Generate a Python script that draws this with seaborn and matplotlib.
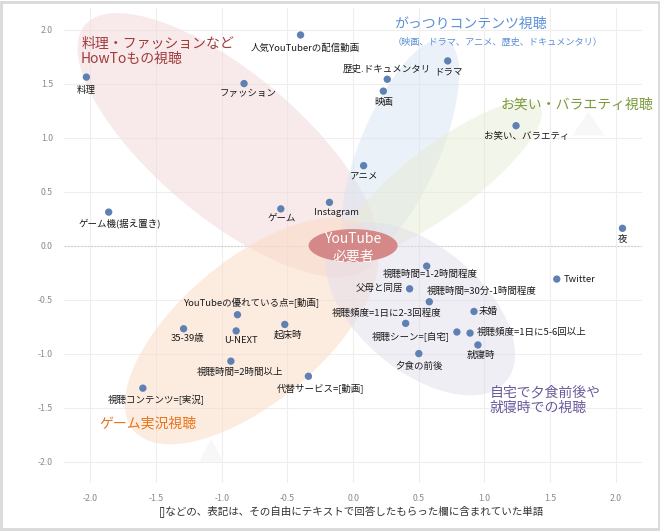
import matplotlib
matplotlib.use("Agg")
import matplotlib.pyplot as plt
from matplotlib.patches import Ellipse, Polygon, Rectangle
from matplotlib.transforms import Affine2D
import numpy as np
import pandas as pd
import seaborn as sns

sns.set_theme(style="whitegrid")
plt.rcParams['font.family'] = ['Noto Sans CJK JP', 'DejaVu Sans']

# 単語と座標 (読み取り値)
words = ["料理", "ファッション", "人気YouTuberの配信動画", "歴史.ドキュメンタリ", "映画", "ドラマ",
         "お笑い、バラエティ", "アニメ", "Instagram", "ゲーム", "ゲーム機(据え置き)", "夜", "Twitter",
         "視聴時間=1-2時間程度", "父母と同居", "視聴時間=30分-1時間程度", "未婚",
         "視聴頻度=1日に2-3回程度", "視聴シーン=[自宅]", "視聴頻度=1日に5-6回以上", "就寝時",
         "夕食の前後", "YouTubeの優れている点=[動画]", "35-39歳", "U-NEXT", "起床時",
         "視聴時間=2時間以上", "代替サービス=[動画]", "視聴コンテンツ=[実況]"]
dim1 = [-2.03, -0.83, -0.40, 0.26, 0.23, 0.72,
        1.24, 0.08, -0.18, -0.55, -1.86, 2.05, 1.55,
        0.56, 0.43, 0.58, 0.92,
        0.40, 0.79, 0.89, 0.95,
        0.50, -0.88, -1.29, -0.89, -0.52,
        -0.93, -0.34, -1.60]
dim2 = [1.56, 1.50, 1.95, 1.54, 1.43, 1.71,
        1.11, 0.74, 0.40, 0.34, 0.31, 0.16, -0.31,
        -0.19, -0.40, -0.52, -0.61,
        -0.72, -0.80, -0.81, -0.92,
        -1.00, -0.64, -0.77, -0.79, -0.73,
        -1.07, -1.21, -1.32]

# ラベル位置 (px offset, ha)
label_pos = {
    "料理": (0, -13, "center"), "ファッション": (4, -10, "center"),
    "人気YouTuberの配信動画": (5, -13, "center"), "歴史.ドキュメンタリ": (0, 10, "center"),
    "映画": (0, -11, "center"), "ドラマ": (1, -11, "center"),
    "お笑い、バラエティ": (11, -11, "center"), "アニメ": (0, -10, "center"),
    "Instagram": (7, -10, "center"), "ゲーム": (1, -9, "center"),
    "ゲーム機(据え置き)": (11, -11, "center"), "夜": (0, -11, "center"),
    "Twitter": (7, 0, "left"), "視聴時間=1-2時間程度": (4, -8, "center"),
    "父母と同居": (-6, 0, "right"), "視聴時間=30分-1時間程度": (-3, 10, "left"),
    "未婚": (5, 0, "left"), "視聴頻度=1日に2-3回程度": (-19, 10, "center"),
    "視聴シーン=[自宅]": (-7, -4, "right"), "視聴頻度=1日に5-6回以上": (7, 1, "left"),
    "就寝時": (3, -10, "center"), "夕食の前後": (0, -13, "center"),
    "YouTubeの優れている点=[動画]": (15, 12, "center"), "35-39歳": (4, -10, "center"),
    "U-NEXT": (5, -10, "center"), "起床時": (3, -11, "center"),
    "視聴時間=2時間以上": (9, -11, "center"), "代替サービス=[動画]": (12, -12, "center"),
    "視聴コンテンツ=[実況]": (13, -12, "center"),
}

# グループ楕円: 中心, 半径(x単位), 角度(画面上)
groups = [
    ((-0.954, 0.930), 1.42, 0.55, -40, "#f2d7d7"),
    ((0.359, 0.902), 0.893, 0.305, 67, "#d8e4f2"),
    ((0.679, 0.623), 0.924, 0.262, 36.6, "#e7ecd4"),
    ((-0.771, -0.791), 1.176, 0.542, 40, "#fbdac3"),
    ((0.511, -0.586), 0.855, 0.473, -40, "#e2deec"),
]

df = pd.DataFrame({"word": words, "x": dim1, "y": dim2})

fig = plt.figure(figsize=(6.6, 5.31), dpi=100)
ax = fig.add_axes([0.097, 0.090, 0.876, 0.895])
ax.set_xlim(-2.2, 2.2)
ax.set_ylim(-2.2, 2.2)

# x単位 -> y単位 (画面上で形を保つ)
k = (0.876 * 660 / 4.4) / (0.895 * 531 / 4.4)

for (cx, cy), a, b, ang, col in groups:
    e = Ellipse((0, 0), 2 * a, 2 * b, angle=ang, facecolor=col, edgecolor="none",
                alpha=0.5, zorder=1,
                transform=Affine2D().scale(1, k).translate(cx, cy) + ax.transData)
    ax.add_patch(e)

# うすい三角
for tri in [[(-1.08, -1.79), (-1.17, -2.0), (-0.99, -2.0)],
            [(1.79, 1.24), (1.67, 1.02), (1.91, 1.02)]]:
    ax.add_patch(Polygon(tri, closed=True, facecolor="#f7f7f7", edgecolor="none", zorder=0.8))

sns.scatterplot(data=df, x="x", y="y", ax=ax, s=28, color="#5f80b3",
                edgecolor="none", zorder=3, legend=False)

for w, x, y in zip(words, dim1, dim2):
    dx, dy, ha = label_pos[w]
    ax.annotate(w, (x, y), xytext=(dx, dy), textcoords="offset pixels",
                ha=ha, va="center", fontsize=6.8, color="#1a1a1a", zorder=4)

# 中央
ax.add_patch(Ellipse((0, 0), 89 / 131.4, 33 / 108, facecolor="#d48887",
                     edgecolor="none", zorder=5))
ax.text(0, 0.06, "YouTube", ha="center", va="center", color="white",
        fontsize=10, zorder=6)
ax.text(0, -0.1, "必要者", ha="center", va="center", color="white",
        fontsize=10, zorder=6)

# グループ名
ax.text(-2.07, 1.80, "料理・ファッションなど\nHowToもの視聴", ha="left", va="center",
        color="#a03b3b", fontsize=10, linespacing=1.1, zorder=6)
ax.text(0.89, 2.05, "がっつりコンテンツ視聴", ha="center", va="center",
        color="#5b8fd6", fontsize=10, zorder=6)
ax.text(1.10, 1.88, "（映画、ドラマ、アニメ、歴史、ドキュメンタリ）", ha="center", va="center",
        color="#5b8fd6", fontsize=6.6, zorder=6)
ax.text(1.12, 1.30, "お笑い・バラエティ視聴", ha="left", va="center",
        color="#7b9a3b", fontsize=10, zorder=6, clip_on=False)
ax.text(-1.93, -1.65, "ゲーム実況視聴", ha="left", va="center",
        color="#e8731c", fontsize=10, zorder=6)
ax.text(1.04, -1.43, "自宅で夕食前後や\n就寝時での視聴", ha="left", va="center",
        color="#6b5a9a", fontsize=10, linespacing=1.1, zorder=6)

ticks = np.arange(-2.0, 2.01, 0.5)
ax.set_xticks(ticks)
ax.set_yticks(ticks)
ax.set_xticklabels([f"{t:.1f}" for t in ticks])
ax.set_yticklabels([f"{t:.1f}" for t in ticks])
ax.tick_params(axis="both", length=0, labelsize=6.3, labelcolor="#8a8a8a", pad=8)
ax.grid(True, color="#eeeeee", linewidth=0.8)
ax.axhline(0, color="#cccccc", linewidth=0.8, linestyle=(0, (1.5, 1.5)), zorder=0.9)
ax.set_xlabel("")
ax.set_ylabel("")
for sp in ax.spines.values():
    sp.set_visible(False)
ax.set_facecolor("white")

fig.text(0.533, 0.036, "[]などの、表記は、その自由にテキストで回答したもらった欄に含まれていた単語",
         ha="center", va="center", fontsize=7.6, color="#333333")

fig.patches.append(Rectangle((0.002, 0.003), 0.996, 0.994, transform=fig.transFigure,
                             fill=False, edgecolor="#d9d9d9", linewidth=2))

fig.savefig("out.png", dpi=100)
